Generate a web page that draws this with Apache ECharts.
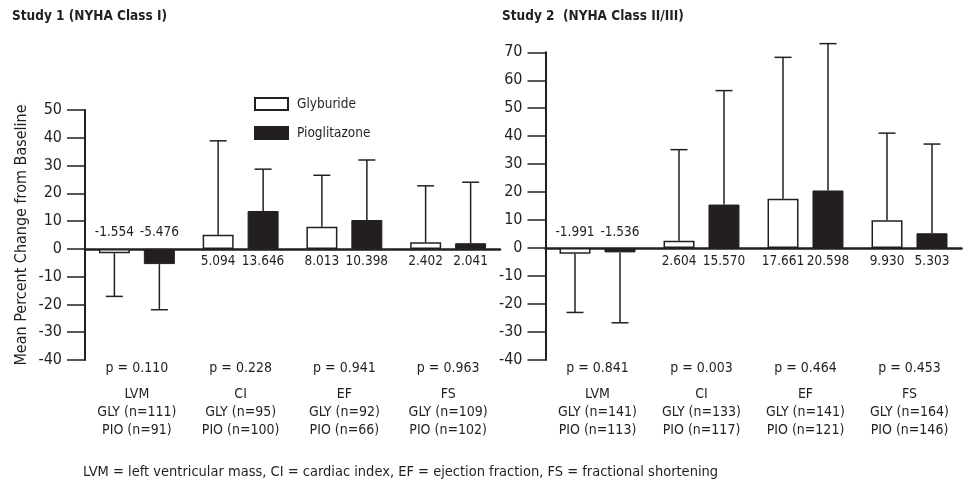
<!DOCTYPE html>
<html><head><meta charset="utf-8">
<script src="https://cdn.jsdelivr.net/npm/echarts@6/dist/echarts.min.js"></script>
<style>html,body{margin:0;padding:0;background:#fff}#c{width:969px;height:491px}</style>
</head><body><div id="c"></div>
<script>
const categories = ['LVM', 'CI', 'EF', 'FS'];
// Study 1 (NYHA Class I)
const study1Gly = [-1.554, 5.094, 8.013, 2.402];
const study1Pio = [-5.476, 13.646, 10.398, 2.041];
const study1GlyWhisker = [-17.1, 38.9, 26.5, 22.7];
const study1PioWhisker = [-21.9, 28.7, 32.0, 24.0];
const study1P = ['0.110', '0.228', '0.941', '0.963'];
const study1GlyN = [111, 95, 92, 109];
const study1PioN = [91, 100, 66, 102];
// Study 2 (NYHA Class II/III)
const study2Gly = [-1.991, 2.604, 17.661, 9.930];
const study2Pio = [-1.536, 15.570, 20.598, 5.303];
const study2GlyWhisker = [-23.0, 35.2, 68.2, 41.1];
const study2PioWhisker = [-26.7, 56.3, 73.1, 37.2];
const study2P = ['0.841', '0.003', '0.464', '0.453'];
const study2GlyN = [141, 133, 141, 164];
const study2PioN = [113, 117, 121, 146];
// axis ranges
const study1YMin = -40, study1YMax = 50;
const study2YMin = -40, study2YMax = 70;
const yStep = 10;

const FONT = "'Liberation Sans Narrow', 'DejaVu Sans Condensed', 'Liberation Sans', sans-serif";
const INK = '#231f20';
const BAR_W = 31;
const HALF_OFFSET = 22.5;

const chart = echarts.init(document.getElementById('c'), null, {renderer: 'canvas'});

function barLabel(values) {
  return values.map(v => ({
    value: v,
    label: {position: v < 0 ? 'top' : 'bottom', distance: v < 0 ? 9 : 6}
  }));
}

function whiskerSeries(name, bars, tips, sign, gi) {
  return {
    type: 'custom', name: name, xAxisIndex: gi * 2, yAxisIndex: gi,
    silent: true, z: 1,
    data: bars.map((b, i) => [i, b, tips[i]]),
    encode: {x: 0, y: [1, 2]},
    renderItem: function (params, api) {
      const idx = api.value(0);
      const p1 = api.coord([idx, api.value(1)]);
      const p2 = api.coord([idx, api.value(2)]);
      const x = p1[0] + sign * HALF_OFFSET;
      const style = {stroke: INK, lineWidth: 1.5};
      return {
        type: 'group', children: [
          {type: 'line', shape: {x1: x, y1: p1[1], x2: x, y2: p2[1]}, style: style},
          {type: 'line', shape: {x1: x - 8.5, y1: p2[1], x2: x + 8.5, y2: p2[1]}, style: style}
        ]
      };
    }
  };
}

function bottomLabels(pvals, glyN, pioN) {
  return function (val, i) {
    return '{p|p = ' + pvals[i] + '}\n{s| }\n{n|' + categories[i] + '}\n{n|GLY (n=' + glyN[i] + ')}\n{n|PIO (n=' + pioN[i] + ')}';
  };
}

const richBottom = {
  p: {fontSize: 14, lineHeight: 16, fontFamily: FONT, color: INK},
  s: {fontSize: 4, lineHeight: 9, fontFamily: FONT},
  n: {fontSize: 14, lineHeight: 18, fontFamily: FONT, color: INK}
};

function mainX(gi) {
  return {
    type: 'category', gridIndex: gi, data: categories,
    axisLine: {onZero: true, lineStyle: {color: INK, width: 2.5}},
    axisTick: {show: false}, axisLabel: {show: false}, splitLine: {show: false}
  };
}
function labelX(gi, pvals, glyN, pioN) {
  return {
    type: 'category', gridIndex: gi, data: categories, position: 'bottom',
    axisLine: {show: false, onZero: false}, axisTick: {show: false},
    axisLabel: {interval: 0, margin: 0, formatter: bottomLabels(pvals, glyN, pioN), rich: richBottom}
  };
}
function yAx(gi, min, max, withName) {
  const o = {
    type: 'value', gridIndex: gi, min: min, max: max, interval: yStep,
    axisLine: {show: true, lineStyle: {color: INK, width: 2}},
    axisTick: {show: true, length: 18, lineStyle: {color: INK, width: 1.5}},
    axisLabel: {fontSize: 16, fontFamily: FONT, color: INK, margin: 23},
    splitLine: {show: false}
  };
  if (withName) {
    o.name = 'Mean Percent Change from Baseline';
    o.nameLocation = 'middle';
    o.nameGap = 55;
    o.nameTextStyle = {fontSize: 16, fontFamily: FONT, color: INK};
  }
  return o;
}
function barSeries(name, values, gi, white) {
  return {
    type: 'bar', name: name, xAxisIndex: gi * 2, yAxisIndex: gi,
    barWidth: BAR_W, barGap: '45%', z: 2,
    itemStyle: white ? {color: '#fff', borderColor: INK, borderWidth: 1.5} : {color: INK, borderColor: INK, borderWidth: 1},
    label: {show: true, fontSize: 13.5, fontFamily: FONT, color: INK, formatter: p => p.value.toFixed(3)},
    data: barLabel(values)
  };
}

chart.setOption({
  animation: false,
  backgroundColor: '#fff',
  title: [
    {text: 'Study 1 (NYHA Class I)', left: 7, top: 4, textStyle: {fontSize: 13.5, fontWeight: 'bold', fontFamily: FONT, color: INK}},
    {text: 'Study 2  (NYHA Class II/III)', left: 497, top: 4, textStyle: {fontSize: 13.5, fontWeight: 'bold', fontFamily: FONT, color: INK}}
  ],
  legend: {
    data: ['Glyburide', 'Pioglitazone'], orient: 'vertical', left: 249, top: 92,
    itemWidth: 33, itemHeight: 12, itemGap: 15, icon: 'rect',
    textStyle: {fontSize: 13.5, fontFamily: FONT, color: INK, padding: [0, 0, 0, 4]},
    selectedMode: false
  },
  grid: [
    {left: 85, top: 110, width: 415, height: 250},
    {left: 545.5, top: 52.3, width: 416, height: 307.7}
  ],
  xAxis: [
    mainX(0), labelX(0, study1P, study1GlyN, study1PioN),
    mainX(1), labelX(1, study2P, study2GlyN, study2PioN)
  ],
  yAxis: [
    yAx(0, study1YMin, study1YMax, true),
    yAx(1, study2YMin, study2YMax, false)
  ],
  graphic: [
    {type: 'text', left: 83, top: 465, style: {text: 'LVM = left ventricular mass, CI = cardiac index, EF = ejection fraction, FS = fractional shortening', fontSize: 14.5, fontFamily: FONT, fill: INK}}
  ],
  series: [
    barSeries('Glyburide', study1Gly, 0, true),
    barSeries('Pioglitazone', study1Pio, 0, false),
    whiskerSeries('w1g', study1Gly, study1GlyWhisker, -1, 0),
    whiskerSeries('w1p', study1Pio, study1PioWhisker, 1, 0),
    barSeries('Glyburide', study2Gly, 1, true),
    barSeries('Pioglitazone', study2Pio, 1, false),
    whiskerSeries('w2g', study2Gly, study2GlyWhisker, -1, 1),
    whiskerSeries('w2p', study2Pio, study2PioWhisker, 1, 1)
  ]
});
</script>
</body></html>
